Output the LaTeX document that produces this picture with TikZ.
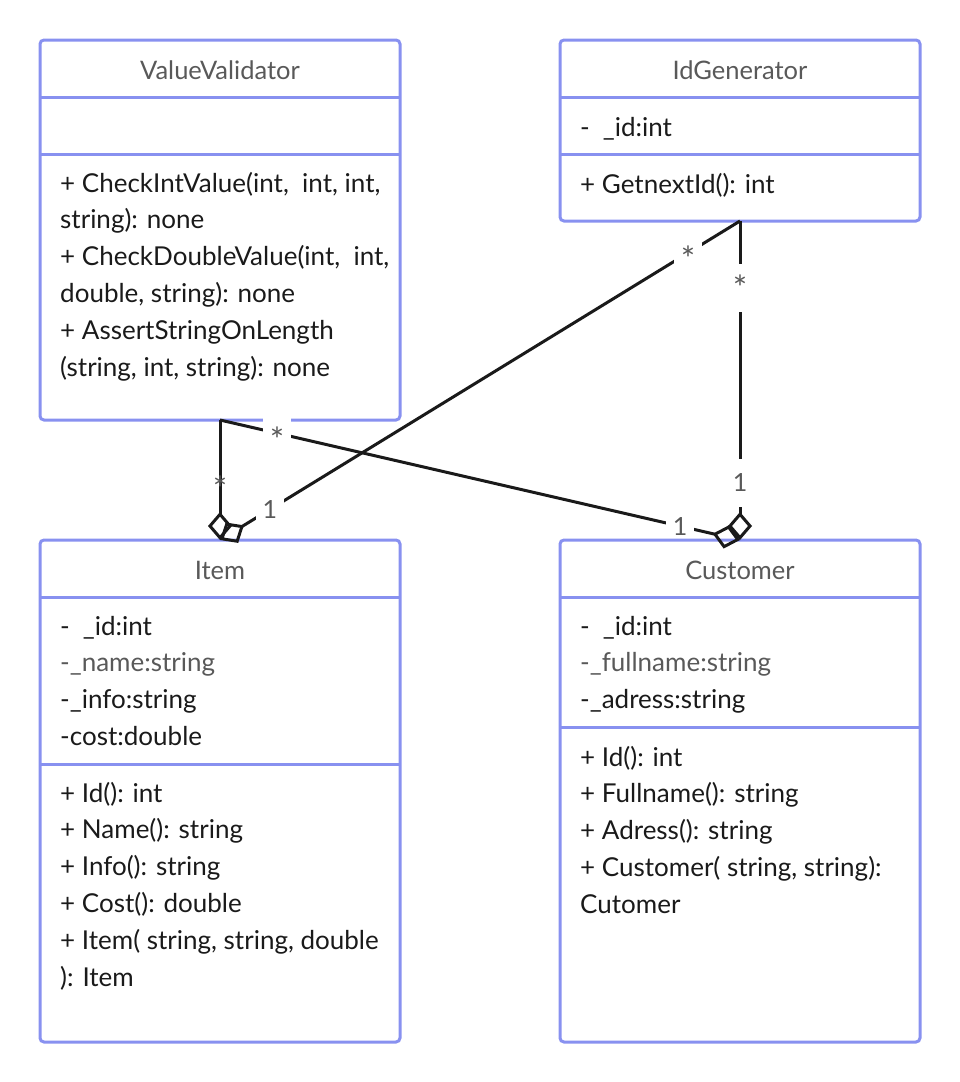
\documentclass[tikz,border=0pt]{standalone}
\usepackage{fontspec}
\setmainfont{Lato}
\usetikzlibrary{arrows.meta}
\definecolor{umlblue}{RGB}{136,145,240}
\definecolor{umlgray}{RGB}{89,89,89}
\definecolor{umlink}{RGB}{26,26,26}

\begin{document}
\begin{tikzpicture}[x=1pt,y=-1pt,
    ClassStyle/.style={draw=umlblue, line width=3pt, rounded corners=4pt, minimum width=360pt, inner sep=0pt, outer sep=0pt},
    SepStyle/.style={draw=umlblue, line width=3pt},
    TitleStyle/.style={anchor=base, text=umlgray, font=\fontsize{25.5}{30}\selectfont},
    MemberStyle/.style={anchor=base west, inner sep=0pt, text=umlink, font=\fontsize{26}{31}\selectfont},
    EdgeStyle/.style={draw=umlink, line width=3pt, -{Diamond[open, length=28pt, width=24pt]}},
    MultStyle/.style={fill=white, text=umlgray, inner sep=0pt, minimum width=28pt, minimum height=48pt,
                      font=\fontsize{25}{30}\selectfont},
    StarStyle/.style={MultStyle, yshift=-6pt, font=\fontsize{34}{40}\selectfont}]
    \useasboundingbox (0,0) rectangle (960,1082);

    % class boxes
    \node[ClassStyle, minimum height=380pt] (ValueValidator) at (220,230) {};
    \node[ClassStyle, minimum height=181pt] (IdGenerator) at (740,130.5) {};
    \node[ClassStyle, minimum height=502pt] (Item) at (220,791) {};
    \node[ClassStyle, minimum height=502pt] (Customer) at (740,791) {};

    % compartments
    \foreach \c/\y in {ValueValidator/97, ValueValidator/154, IdGenerator/97, IdGenerator/154,
                       Item/597, Item/764, Customer/597, Customer/727}
      \draw[SepStyle] (\c.west |- 0,\y) -- (\c.east |- 0,\y);

    % titles
    \node[TitleStyle] (VVt) at (220,79) {ValueValidator};
    \node[TitleStyle] (IGt) at (740,79) {IdGenerator};
    \node[TitleStyle] (ITt) at (220,579) {Item};
    \node[TitleStyle] (CUt) at (740,579) {Customer};

    % members
    \foreach \t [count=\i from 0] in {{+ CheckIntValue(int,\ \ int, int,}, {string): none},
        {+ CheckDoubleValue(int,\ \ int,}, {double, string): none},
        + AssertStringOnLength, {(string, int, string): none}}
      \node[MemberStyle] (VVm\i) at (60,{192+36.8*\i}) {\t};

    \node[MemberStyle] (IGa0) at (580,136) {-\hspace{13pt}\_id:int};
    \node[MemberStyle] (IGm0) at (580,193) {+ GetnextId(): int};

    \foreach \t [count=\i from 0] in {-\hspace{13pt}\_id:int, \textcolor{umlgray}{-\_name:string},
        -\_info:string, -cost:double}
      \node[MemberStyle] (ITa\i) at (60,{635+36.8*\i}) {\t};
    \foreach \t [count=\i from 0] in {+ Id(): int, + Name(): string, + Info(): string,
        + Cost(): double, {+ Item( string, string, double}, ): Item}
      \node[MemberStyle] (ITm\i) at (60,{802+36.8*\i}) {\t};

    \foreach \t [count=\i from 0] in {-\hspace{13pt}\_id:int, \textcolor{umlgray}{-\_fullname:string},
        -\_adress:string}
      \node[MemberStyle] (CUa\i) at (580,{635+36.8*\i}) {\t};
    \foreach \t [count=\i from 0] in {+ Id(): int, + Fullname(): string, + Adress(): string,
        {+ Customer( string, string):}, Cutomer}
      \node[MemberStyle] (CUm\i) at (580,{766+36.8*\i}) {\t};

    % aggregations
    \draw[EdgeStyle] (ValueValidator.south) -- node[StarStyle, fill=none, pos=0.52] (m1) {*} (Item.north);
    \draw[EdgeStyle] (ValueValidator.south) -- node[StarStyle, pos=0.11] (m2) {*}
        node[MultStyle, minimum height=24pt, pos=0.885] (m3) {1} (Customer.north);
    \draw[EdgeStyle] (IdGenerator.south) -- node[StarStyle, pos=0.1] (m4) {*}
        node[MultStyle, pos=0.904] (m5) {1} (Item.north);
    \draw[EdgeStyle] (IdGenerator.south) -- node[StarStyle, pos=0.19] (m6) {*}
        node[MultStyle, pos=0.82] (m7) {1} (Customer.north);
\end{tikzpicture}
\end{document}
